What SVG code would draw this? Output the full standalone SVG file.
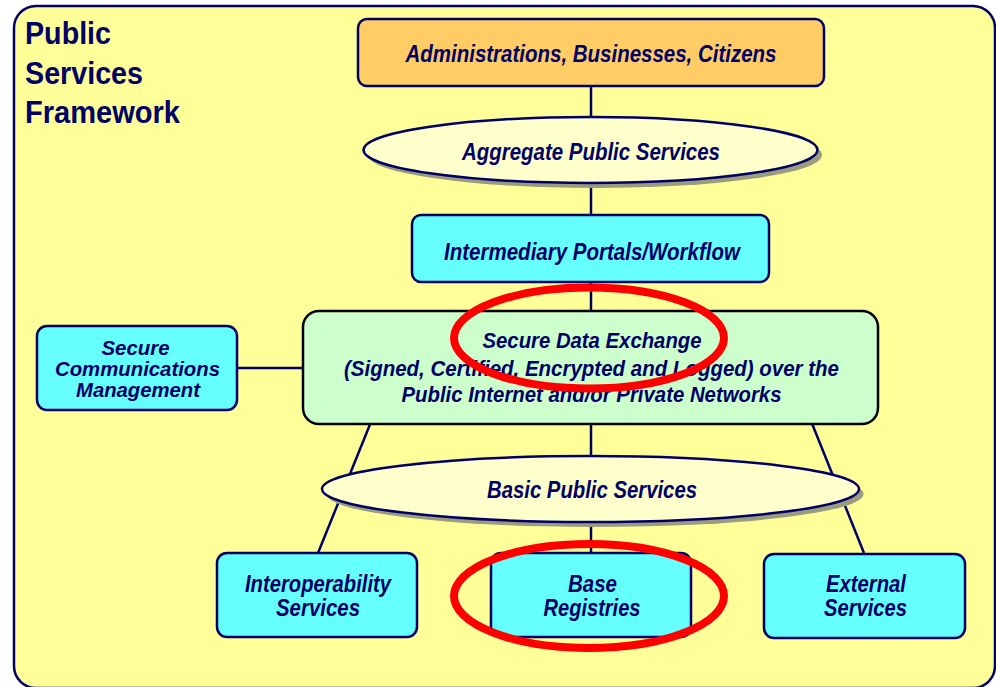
<svg xmlns="http://www.w3.org/2000/svg" width="996" height="687" viewBox="0 0 996 687">
<style>
.t{font-family:"Liberation Sans",Arial,sans-serif;font-weight:bold;font-style:italic;fill:#000066;text-anchor:middle}
.title{font-family:"Liberation Sans",Arial,sans-serif;font-weight:bold;fill:#000066;font-size:32px}
.cyan{fill:#66FFFF;stroke:#000066;stroke-width:2.5}
.con{stroke:#000066;stroke-width:2.5;fill:none}
.ell{fill:#FFFFCC;stroke:#000066;stroke-width:2.5}
.sh{fill:#9B9B7E}
.red{fill:none;stroke:#FF0000;stroke-width:8}
</style>
<rect width="996" height="687" fill="#ffffff"/>
<g id="frame">
<rect x="14" y="6" width="981" height="682" rx="22" fill="#FFFF99" stroke="#000066" stroke-width="2.5"/>
<text class="title" x="25" y="44" textLength="86" lengthAdjust="spacingAndGlyphs">Public</text>
<text class="title" x="25" y="84" textLength="118" lengthAdjust="spacingAndGlyphs">Services</text>
<text class="title" x="25" y="123" textLength="155" lengthAdjust="spacingAndGlyphs">Framework</text>
</g>
<g id="connectors">
<line class="con" x1="591" y1="86" x2="591" y2="215"/>
<line class="con" x1="591" y1="282" x2="591" y2="311"/>
<line class="con" x1="237" y1="368" x2="303" y2="368"/>
<line class="con" x1="591" y1="424" x2="591" y2="553"/>
<line class="con" x1="371" y1="422" x2="318" y2="553"/>
<line class="con" x1="811" y1="421" x2="864" y2="553"/>
</g>
<g id="citizens">
<rect x="358" y="19" width="466" height="67" rx="9" fill="#FFCC66" stroke="#000066" stroke-width="2.5"/>
<text class="t" x="591" y="62" font-size="23" textLength="371" lengthAdjust="spacingAndGlyphs">Administrations, Businesses, Citizens</text>
</g>
<g id="aggregate">
<ellipse class="sh" cx="595" cy="155" rx="227" ry="33"/>
<ellipse class="ell" cx="590.5" cy="150" rx="227" ry="33"/>
<text class="t" x="591" y="160" font-size="23" textLength="258" lengthAdjust="spacingAndGlyphs">Aggregate Public Services</text>
</g>
<g id="intermediary">
<rect class="cyan" x="412" y="215" width="357" height="67" rx="9"/>
<text class="t" x="592" y="260" font-size="23" textLength="296" lengthAdjust="spacingAndGlyphs">Intermediary Portals/Workflow</text>
</g>
<g id="sde">
<rect x="303" y="311" width="575" height="113" rx="16" fill="#CCFFCC" stroke="#000000" stroke-width="2.5"/>
<text class="t" x="592" y="348" font-size="22" textLength="219" lengthAdjust="spacingAndGlyphs">Secure Data Exchange</text>
<text class="t" x="591.5" y="376" font-size="22" textLength="495" lengthAdjust="spacingAndGlyphs">(Signed, Certified, Encrypted and Logged) over the</text>
<text class="t" x="591.5" y="402" font-size="22" textLength="380" lengthAdjust="spacingAndGlyphs">Public Internet and/or Private Networks</text>
</g>
<g id="scm">
<rect class="cyan" x="37" y="326" width="200" height="84" rx="10"/>
<text class="t" x="135.5" y="355" font-size="20" textLength="68" lengthAdjust="spacingAndGlyphs">Secure</text>
<text class="t" x="137.5" y="376" font-size="20" textLength="165" lengthAdjust="spacingAndGlyphs">Communications</text>
<text class="t" x="138" y="397" font-size="20" textLength="124" lengthAdjust="spacingAndGlyphs">Management</text>
</g>
<g id="basic">
<ellipse class="sh" cx="595" cy="494" rx="268.5" ry="33"/>
<ellipse class="ell" cx="590.5" cy="489" rx="268.5" ry="33"/>
<text class="t" x="592" y="498" font-size="23" textLength="210" lengthAdjust="spacingAndGlyphs">Basic Public Services</text>
</g>
<g id="interop">
<rect class="cyan" x="217" y="553" width="200" height="84" rx="10"/>
<text class="t" x="318" y="592" font-size="23" textLength="146" lengthAdjust="spacingAndGlyphs">Interoperability</text>
<text class="t" x="318" y="616" font-size="23" textLength="84" lengthAdjust="spacingAndGlyphs">Services</text>
</g>
<g id="base">
<rect class="cyan" x="491" y="553" width="200" height="84" rx="10"/>
<text class="t" x="592.5" y="592" font-size="23" textLength="49" lengthAdjust="spacingAndGlyphs">Base</text>
<text class="t" x="592" y="616" font-size="23" textLength="97" lengthAdjust="spacingAndGlyphs">Registries</text>
</g>
<g id="external">
<rect class="cyan" x="764" y="554" width="201" height="84" rx="10"/>
<text class="t" x="866" y="592" font-size="23" textLength="80" lengthAdjust="spacingAndGlyphs">External</text>
<text class="t" x="865.5" y="616" font-size="23" textLength="83" lengthAdjust="spacingAndGlyphs">Services</text>
</g>
<g id="highlights">
<ellipse class="red" cx="589" cy="338" rx="135" ry="50.5"/>
<ellipse class="red" cx="589" cy="596" rx="135" ry="52"/>
</g>
</svg>
